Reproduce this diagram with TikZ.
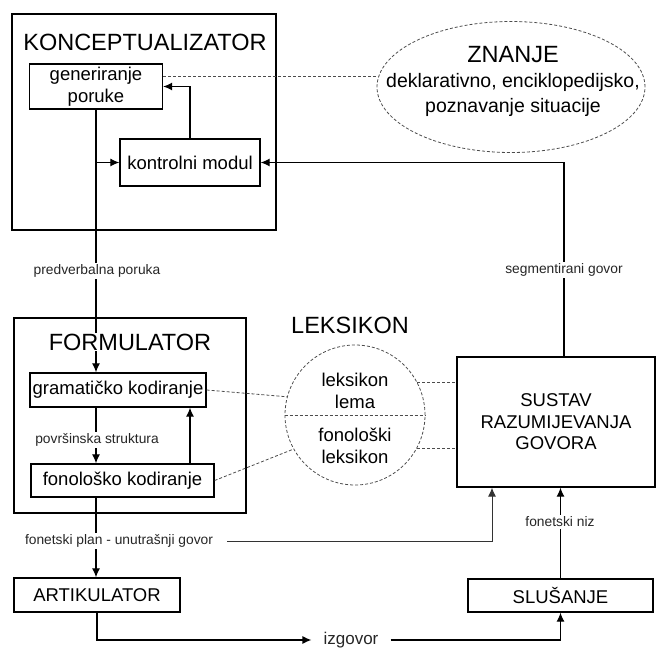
\documentclass[tikz,border=0pt]{standalone}
\usepackage{fontspec}
\setmainfont{Liberation Sans}
\usetikzlibrary{arrows.meta,calc,shapes.geometric}
\begin{document}
\begin{tikzpicture}[x=1pt,y=-1pt,
  box/.style={draw, line width=1.3pt, inner sep=0pt, align=center, font=\fontsize{18.5}{21.5}\selectfont},
  outer/.style={draw, line width=1.5pt, inner sep=0pt},
  ttl/.style={font=\fontsize{23.5}{26}\selectfont, inner sep=1pt},
  txt/.style={align=center, inner sep=0pt, font=\fontsize{18.5}{22}\selectfont},
  lbl/.style={font=\fontsize{13.8}{16}\selectfont, fill=white, inner sep=2pt, text=black!85},
  arr/.style={line width=1.2pt, -{Latex[length=9pt,width=8pt]}},
  dsh/.style={line width=0.8pt, dash pattern=on 3pt off 2pt, black!70},
]
\useasboundingbox (0,0) rectangle (657,650);
% boxes
\node[outer, minimum width=264pt, minimum height=216pt] (konc) at (144,122) {};
\node[ttl] (kt) at (145,42) {KONCEPTUALIZATOR};
\node[box, minimum width=133pt, minimum height=45pt] (gen) at (96,86.5) {generiranje\\poruke};
\node[box, minimum width=140pt, minimum height=47pt] (kon) at (190,162.5) {kontrolni modul};

\node[draw, ellipse, dsh, minimum width=268pt, minimum height=131pt, inner sep=0pt] (zn) at (511,87) {};
\node[ttl] (znt) at (513,55) {ZNANJE};
\node[txt, font=\fontsize{19.5}{25}\selectfont] (znx) at (513,95) {deklarativno, enciklopedijsko,\\poznavanje situacije};

\node[outer, minimum width=232pt, minimum height=195pt] (form) at (130,415.5) {};
\node[box, minimum width=176pt, minimum height=34pt] (gram) at (118,390) {gramatičko kodiranje};
\node[box, minimum width=183pt, minimum height=33pt] (fono) at (122.5,480.5) {fonološko kodiranje};
\node[box, minimum width=166pt, minimum height=34pt] (art) at (97,595) {ARTIKULATOR};
\node[box, minimum width=185pt, minimum height=33pt] (slu) at (560.5,595.5) {SLUŠANJE};
\node[box, minimum width=198pt, minimum height=130pt] (sus) at (556,422) {SUSTAV\\RAZUMIJEVANJA\\GOVORA};

\node[ttl] (lt) at (350,325) {LEKSIKON};
\node[draw, circle, dsh, minimum size=140pt, inner sep=0pt] (lex) at (355,415) {};
\node[txt] (lx1) at (355,391) {leksikon\\lema};
\node[txt] (lx2) at (355,446) {fonološki\\leksikon};

% connectors
\draw[dsh] ([yshift=10.5pt]gen.east) -- ([yshift=10.5pt]gen.east -| zn.west);
\draw[arr] (kon.north) |- (gen.east);
\draw[arr] (gen.south) -- (gen.south |- gram.north);
\draw[arr] (gen.south |- kon.west) -- (kon.west);
\draw[arr] ([xshift=8pt]sus.north) |- (kon.east);
\draw[arr] (gen.south |- gram.south) -- (gen.south |- fono.north);
\draw[arr] (kon.north |- fono.north) -- (kon.north |- gram.south);
\draw[arr] (gen.south |- fono.south) -- (gen.south |- art.north);
\draw[arr] (slu.north) -- (slu.north |- sus.south);

\draw[dsh] (gram.east) -- (lex.165);
\draw[dsh] (fono.east) -- (lex.209);
\draw[dsh] (lex.28) -- (lex.28 -| sus.west);
\draw[dsh] (lex.-28) -- (lex.-28 -| sus.west);
\draw[dsh] (lex.180) -- (lex.0);

% labels (on top of lines)
\node[ttl, fill=white] (ft) at (130,342) {FORMULATOR};
\node[lbl] (pred) at (97,271) {predverbalna poruka};
\node[lbl] (seg) at (564,270) {segmentirani govor};
\node[lbl] (povr) at (97,440) {površinska struktura};
\node[lbl] (fpl) at (119,541) {fonetski plan - unutrašnji govor};
\node[lbl] (fniz) at (560,522) {fonetski niz};
\node[lbl, font=\fontsize{17}{20}\selectfont] (izg) at (351,640) {izgovor};

\draw[arr, line width=1pt, black!80] ([xshift=12pt]fpl.east) -| ([xshift=-64pt]sus.south);
\draw[arr] (art.south) |- ([xshift=-10pt]izg.west);
\draw[arr] ([xshift=10pt]izg.east) -| (slu.south);
\end{tikzpicture}
\end{document}
